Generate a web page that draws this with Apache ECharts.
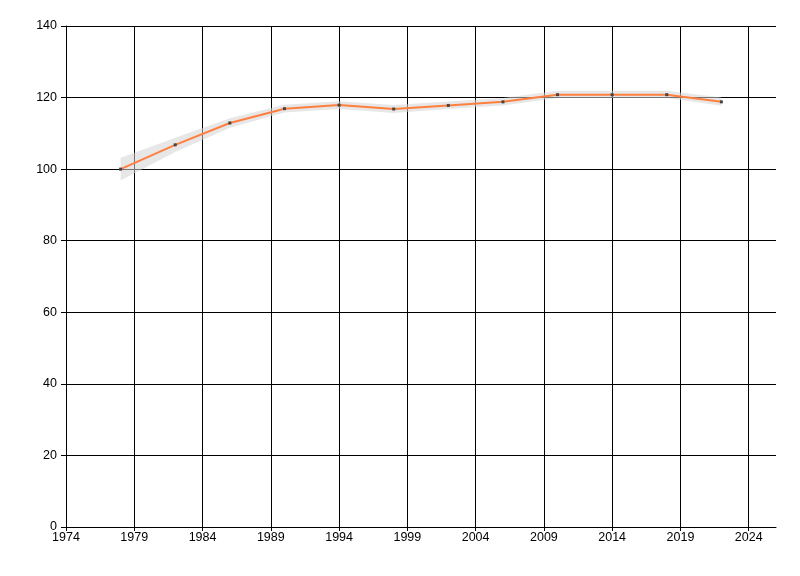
<!DOCTYPE html>
<html>
<head>
<meta charset="utf-8">
<script src="https://cdn.jsdelivr.net/npm/echarts@6/dist/echarts.min.js"></script>
<style>html,body{margin:0;padding:0;background:#fff}#c{width:800px;height:576px}</style>
</head>
<body>
<div id="c"></div>
<script>
var years = [1978, 1982, 1986, 1990, 1994, 1998, 2002, 2006, 2010, 2014, 2018, 2022];
var values = [100, 106.8, 112.9, 116.9, 117.9, 116.8, 117.8, 118.8, 120.8, 120.8, 120.8, 118.8];
var lower = [96.8, 104.8, 111.6, 115.8, 116.8, 115.7, 116.8, 117.8, 119.9, 119.9, 119.9, 117.7];
var upper = [103.2, 108.8, 114.2, 118.0, 119.0, 117.9, 118.9, 119.9, 121.9, 121.9, 121.9, 120.0];
var yTicks = [0, 20, 40, 60, 80, 100, 120, 140];
var base = 1974;
var FONT = '"Liberation Sans Narrow", "Liberation Sans", sans-serif';

var lineData = years.map(function (y, i) { return [y - base, values[i]]; });
var bandData = years.map(function (y, i) { return [y - base, lower[i], upper[i]]; });

var chart = echarts.init(document.getElementById('c'));
chart.setOption({
  animation: false,
  backgroundColor: '#ffffff',
  grid: { left: 66, right: 24, top: 26, bottom: 49, containLabel: false },
  xAxis: {
    type: 'value', min: 0, max: 52, interval: 5,
    axisLine: { show: true, onZero: false, lineStyle: { color: '#000', width: 1 } },
    axisTick: { show: true, length: 4, lineStyle: { color: '#000' } },
    axisLabel: { color: '#000', fontSize: 12.5, fontFamily: FONT, margin: 4, showMaxLabel: false,
      formatter: function (v) { return String(v + base); } },
    splitLine: { show: true, showMaxLine: false, lineStyle: { color: '#000', width: 1 } }
  },
  yAxis: {
    type: 'value', min: yTicks[0], max: yTicks[yTicks.length - 1], interval: 20,
    axisLine: { show: true, lineStyle: { color: '#000', width: 1 } },
    axisTick: { show: true, length: 5, lineStyle: { color: '#000' } },
    axisLabel: { color: '#000', fontSize: 12.5, fontFamily: FONT, margin: 9 },
    splitLine: { show: true, lineStyle: { color: '#000', width: 1 } }
  },
  series: [
    {
      type: 'custom', data: bandData, silent: true, z: 2,
      encode: { x: 0, y: [1, 2] },
      renderItem: function (params, api) {
        if (params.dataIndex !== 0) return null;
        var top = [], bot = [];
        for (var i = 0; i < bandData.length; i++) {
          top.push(api.coord([bandData[i][0], bandData[i][2]]));
          bot.push(api.coord([bandData[i][0], bandData[i][1]]));
        }
        var pts = top.concat(bot.reverse());
        return {
          type: 'polygon',
          shape: { points: pts, smooth: 0 },
          style: { fill: 'rgba(212,212,212,0.55)', stroke: null }
        };
      }
    },
    { type: 'line', data: lineData, symbol: 'rect', symbolSize: 3, showSymbol: true,
      lineStyle: { color: '#ff7f3f', width: 2 }, itemStyle: { color: '#444' }, z: 3 }
  ]
});
</script>
</body>
</html>
